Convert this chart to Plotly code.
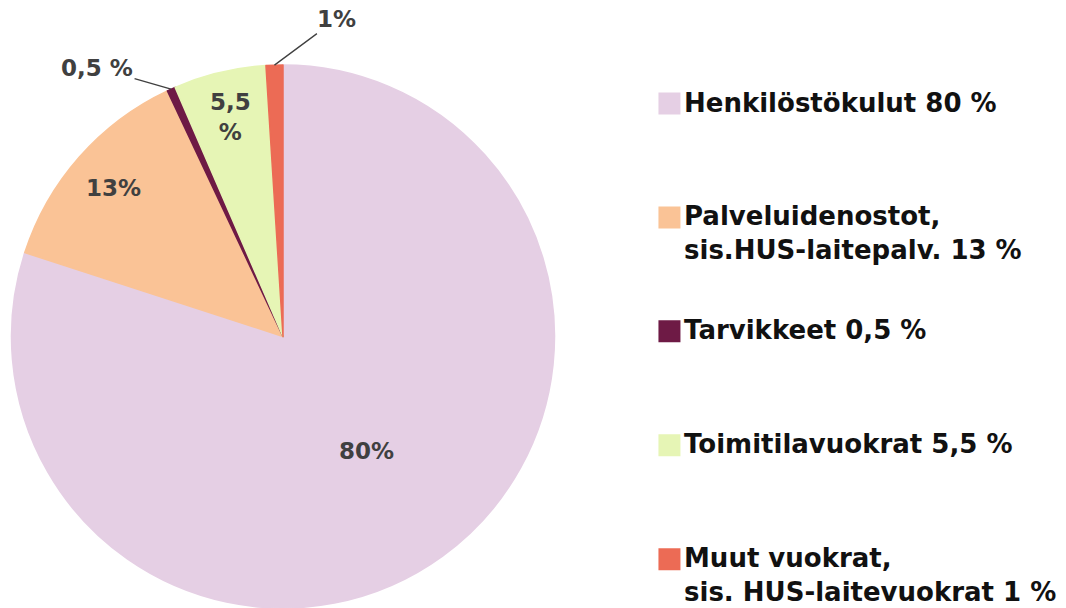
import math
import plotly.graph_objects as go

# ---- data ----
categories = ["Henkilöstökulut", "Palveluidenostot", "Tarvikkeet", "Toimitilavuokrat", "Muut vuokrat"]
values = [80, 13, 0.5, 5.5, 1]
slice_labels = ["80%", "13%", "0,5 %", "5,5<br>%", "1%"]
legend_labels = [
    "Henkilöstökulut 80 %",
    "Palveluidenostot,<br>sis.HUS-laitepalv. 13 %",
    "Tarvikkeet 0,5 %",
    "Toimitilavuokrat 5,5 %",
    "Muut vuokrat,<br>sis. HUS-laitevuokrat 1 %",
]
colors = ["#E5CFE4", "#FAC396", "#6E1A45", "#E6F5B5", "#EC6B55"]

# ---- geometry / style ----
W, H = 1066, 608
CX, CYB, R = 283, 271, 272          # pie centre (px from left / bottom) and radius
label_pos = ["inside", "inside", "outside", "inside", "outside"]
inside_rf = [0.52, 0.83, None, 0.83, None]
outside_off = [None, None, (-74, -21), None, (62, -46)]
FONT = "DejaVu Sans"
LABEL_COLOR = "#404040"

fig = go.Figure()

fig.add_trace(go.Pie(
    labels=categories,
    values=values,
    sort=False,
    direction="clockwise",
    rotation=0,
    marker=dict(colors=colors, line=dict(color=colors, width=1.5)),
    textinfo="none",
    hoverinfo="label+percent",
    domain=dict(x=[(CX - R) / W, (CX + R) / W], y=[0, min(1.0, (CYB + R) / H)]),
    showlegend=False,
))

annotations = []
total = sum(values)
cum = 0.0
for i, v in enumerate(values):
    mid = math.radians(360.0 * (cum + v / 2.0) / total)
    cum += v
    if label_pos[i] == "inside":
        rr = inside_rf[i] * R
        annotations.append(dict(
            x=(CX + rr * math.sin(mid)) / W, y=(CYB + rr * math.cos(mid)) / H,
            xref="paper", yref="paper", text=slice_labels[i], showarrow=False,
            font=dict(family=FONT, size=23, color=LABEL_COLOR, weight="bold"),
            xanchor="center", yanchor="middle",
        ))
    else:
        ax, ay = outside_off[i]
        annotations.append(dict(
            x=(CX + R * math.sin(mid)) / W, y=(CYB + R * math.cos(mid)) / H,
            xref="paper", yref="paper", text=slice_labels[i], showarrow=True,
            arrowhead=0, arrowwidth=1.3, arrowcolor=LABEL_COLOR, standoff=0,
            ax=ax, ay=ay,
            font=dict(family=FONT, size=23, color=LABEL_COLOR, weight="bold"),
        ))

# ---- legend drawn as a scatter on its own axes ----
fig.add_trace(go.Scatter(
    x=[0.07] * len(categories),
    y=categories,
    mode="markers",
    marker=dict(symbol="square", size=22, color=colors, line=dict(width=0)),
    xaxis="x2", yaxis="y2",
    hoverinfo="skip",
    showlegend=False,
))
for cat, lab in zip(categories, legend_labels):
    annotations.append(dict(
        x=0.07, y=cat, xref="x2", yref="y2", text=lab, showarrow=False,
        xanchor="left", yanchor="top", align="left", xshift=13, yshift=18,
        font=dict(family=FONT, size=26, color="#111111", weight="bold"),
    ))

fig.update_layout(
    width=W, height=H,
    margin=dict(l=0, r=0, t=0, b=0),
    paper_bgcolor="white", plot_bgcolor="white",
    showlegend=False,
    annotations=annotations,
    xaxis2=dict(domain=[0.6, 1.0], range=[0, 1], visible=False, fixedrange=True),
    yaxis2=dict(domain=[0, 1], type="category", range=[4.429, -0.909],
                visible=False, fixedrange=True, anchor="x2"),
)

fig.write_html(
    "out.html",
    config={"displayModeBar": False},
    post_script="document.body.style.margin='0';document.body.style.overflow='hidden';",
)
